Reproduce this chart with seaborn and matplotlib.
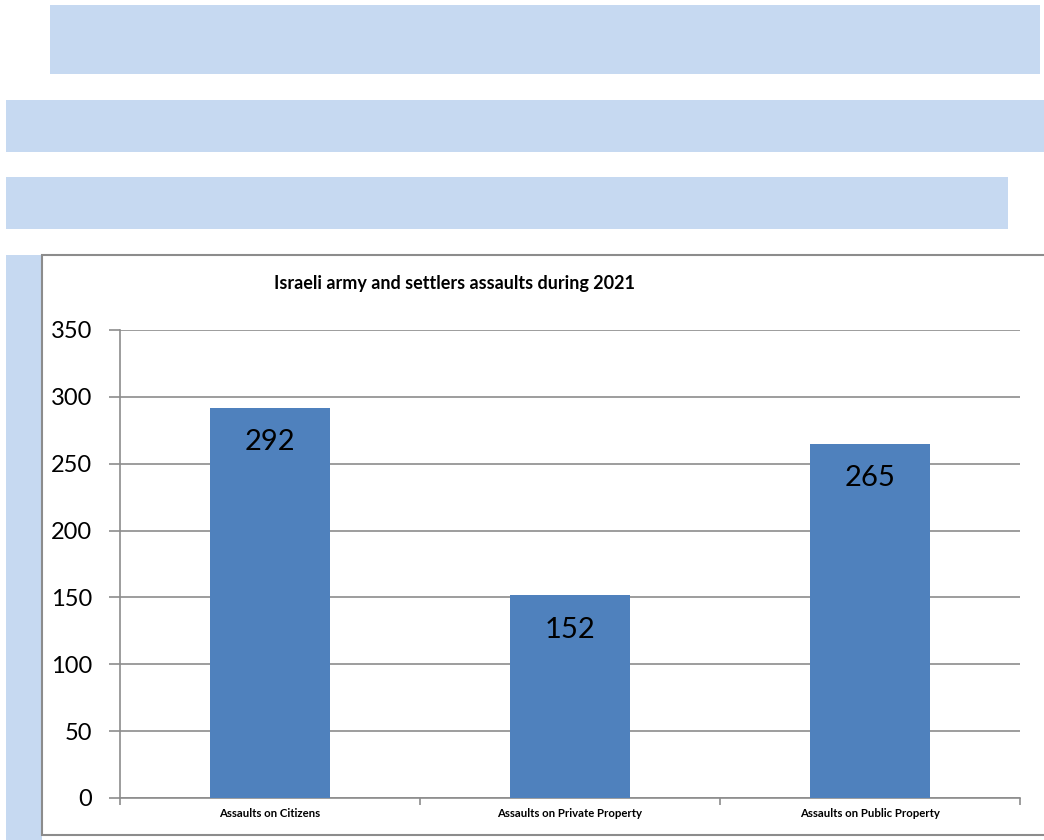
import matplotlib.pyplot as plt
import matplotlib.patches as mpatches
import seaborn as sns
import pandas as pd

# Data
categories = ["Assaults on Citizens", "Assaults on Private Property", "Assaults on Public Property"]
values = [292, 152, 265]
y_ticks = [0, 50, 100, 150, 200, 250, 300, 350]
title = "Israeli army and settlers assaults during 2021"

df = pd.DataFrame({"category": categories, "value": values})

sns.set_style("white")
plt.rcParams['font.family'] = ['Lato', 'DejaVu Sans']
plt.rcParams['text.color'] = 'black'

W, H = 1044, 840
fig = plt.figure(figsize=(W / 100, H / 100), dpi=100)
band_col = "#C6D9F1"

def px_rect(x0, y0, x1, y1, **kw):
    # rectangle in pixel coords (top-left origin)
    r = mpatches.Rectangle((x0 / W, 1 - y1 / H), (x1 - x0) / W, (y1 - y0) / H,
                           transform=fig.transFigure, zorder=-1, **kw)
    fig.patches.append(r)

# decorative bands
px_rect(50, 5, 1040, 74, facecolor=band_col, edgecolor="none")
px_rect(6, 100, 1044, 152, facecolor=band_col, edgecolor="none")
px_rect(6, 177, 1008, 229, facecolor=band_col, edgecolor="none")
px_rect(6, 255, 42, 840, facecolor=band_col, edgecolor="none")
# chart frame
px_rect(42, 255, 1050, 835, facecolor="white", edgecolor="#8C8C8C", linewidth=1.5)

# axes: x 120..1020, y 330..798
ax = fig.add_axes([120 / W, 1 - 798 / H, 900 / W, 468 / H])
ax.set_zorder(2)
ax.set_facecolor("none")
sns.barplot(data=df, x="category", y="value", color="#4F81BD", width=0.4,
            saturation=1, linewidth=0, ax=ax, zorder=3)

ax.set_ylim(0, 350)
ax.set_xlim(-0.5, 2.5)
ax.set_yticks(y_ticks)
ax.set_yticklabels([str(t) for t in y_ticks], fontsize=17, color="black")
ax.set_xticklabels(categories, fontsize=8.2, fontweight="bold", color="black")
ax.set_xlabel("")
ax.set_ylabel("")
ax.yaxis.grid(True, color="#8C8C8C", linewidth=1.2, zorder=0)
ax.set_axisbelow(True)
for s in ["top", "right"]:
    ax.spines[s].set_visible(False)
for s in ["left", "bottom"]:
    ax.spines[s].set_color("#8C8C8C")
    ax.spines[s].set_linewidth(1.2)
ax.tick_params(axis="y", length=8, color="#8C8C8C", width=1.2, pad=12, left=True)
ax.tick_params(axis="x", length=0, pad=7)
# category separators on x axis
ax.set_xticks([-0.5, 0.5, 1.5, 2.5], minor=True)
ax.tick_params(axis="x", which="minor", length=5, color="#8C8C8C", width=1.2, bottom=True)

# value labels inside top of bars
for p, v in zip(ax.patches, values):
    ax.text(p.get_x() + p.get_width() / 2, v - 26, str(v), ha="center", va="center",
            fontsize=21, color="black", zorder=4)

fig.text(455 / W, 1 - 284 / H, title, ha="center", va="center", fontsize=13,
         fontweight="bold")

fig.savefig("out.png", dpi=100)
